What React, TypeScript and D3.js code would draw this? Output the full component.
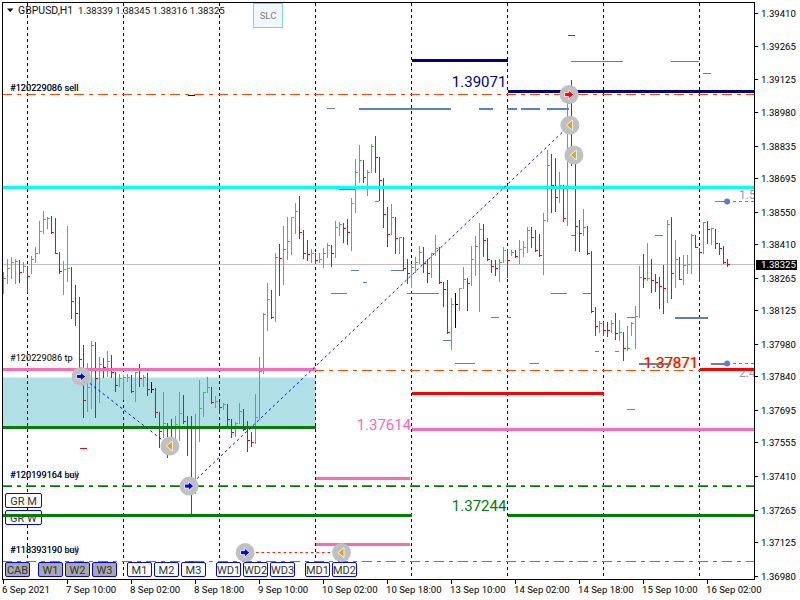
import React from "react";
import * as d3 from "d3";

const pts = (p: number) => 1 + p / 1e5;

// OHLC of GBPUSD H1, in points above 1.00000
const opens = [38262,38292,38310,38335,38340,38310,38318,38288,38348,38374,38469,38521,38521,38465,38374,38297,38305,38314,38167,38115,37917,37740,37796,37977,37834,37895,37882,37908,37860,37800,37834,37834,37834,37778,37860,37834,37834,37787,37787,37687,37601,37640,37610,37550,37636,37683,37649,37623,37368,37653,37705,37774,37796,37731,37731,37709,37722,37657,37601,37640,37692,37614,37567,37558,37666,37860,38093,38176,38098,38357,38357,38391,38426,38530,38555,38465,38374,38370,38370,38344,38348,38374,38409,38374,38486,38499,38482,38465,38590,38724,38775,38702,38724,38836,38788,38689,38542,38456,38530,38439,38443,38310,38288,38314,38335,38378,38331,38288,38374,38396,38249,38219,38046,38154,38154,38223,38262,38245,38348,38404,38478,38430,38340,38318,38310,38335,38387,38374,38378,38361,38391,38400,38473,38443,38387,38374,38516,38754,38667,38616,38667,38525,39021,38775,38490,38460,38486,38374,38124,38059,38072,38072,38042,38072,38029,38033,37960,38024,38072,38102,38270,38258,38344,38266,38249,38232,38223,38499,38288,38348,38262,38322,38318,38452,38383,38378,38508,38478,38478,38417,38396,38339];
const highs = [38292,38348,38357,38348,38344,38335,38318,38361,38400,38512,38555,38530,38534,38525,38378,38340,38490,38314,38236,38184,37977,37899,37994,37990,37925,37921,37951,37934,37860,37852,37847,37852,37847,37860,37895,37847,37856,37817,37791,37687,37774,37640,37657,37670,37774,37761,37670,37670,37679,37826,37774,37839,37796,37757,37731,37727,37722,37657,37644,37727,37700,37649,37601,37765,37925,38115,38245,38214,38374,38413,38490,38530,38530,38590,38620,38473,38430,38391,38374,38374,38396,38417,38409,38512,38508,38504,38521,38611,38780,38840,38775,38732,38845,38879,38788,38698,38573,38586,38530,38443,38443,38348,38322,38357,38404,38400,38348,38374,38452,38400,38249,38258,38180,38201,38223,38314,38266,38404,38447,38504,38499,38439,38344,38344,38348,38400,38391,38387,38387,38430,38426,38486,38486,38473,38456,38547,38819,38801,38784,38724,38667,39043,39121,38797,38516,38564,38490,38383,38141,38080,38076,38076,38085,38115,38085,38033,38059,38076,38145,38318,38370,38417,38348,38283,38270,38322,38516,38530,38430,38357,38366,38366,38456,38452,38396,38508,38512,38482,38478,38417,38404,38345];
const lows = [38201,38245,38266,38245,38249,38292,38206,38288,38335,38374,38460,38482,38460,38374,38288,38197,38253,38093,38063,37843,37666,37692,37705,37666,37731,37839,37843,37839,37778,37800,37744,37822,37774,37735,37800,37800,37761,37774,37666,37537,37580,37494,37524,37520,37567,37640,37502,37252,37338,37562,37670,37774,37727,37709,37683,37700,37631,37580,37584,37640,37610,37520,37541,37554,37657,37856,38042,38093,38080,38193,38240,38348,38370,38460,38439,38352,38344,38335,38331,38335,38314,38357,38318,38357,38452,38421,38413,38387,38551,38681,38681,38624,38724,38724,38603,38486,38404,38456,38374,38374,38301,38245,38227,38292,38331,38292,38249,38270,38365,38245,38145,38029,37960,38055,38128,38223,38128,38236,38279,38124,38361,38344,38292,38279,38253,38335,38270,38365,38357,38331,38361,38378,38400,38383,38361,38283,38512,38551,38555,38594,38512,38495,38754,38387,38383,38452,38370,38119,38020,38033,38020,38016,38033,38003,37999,37912,37955,38020,37964,38098,38227,38258,38206,38210,38136,38115,38163,38180,38227,38262,38240,38288,38288,38400,38253,38374,38417,38413,38396,38370,38331,38316];
const closes = [38266,38310,38335,38339,38292,38318,38275,38348,38374,38469,38521,38525,38465,38374,38297,38305,38310,38167,38115,37917,37740,37796,37977,37834,37895,37882,37908,37860,37804,37834,37838,37838,37778,37860,37834,37838,37787,37787,37687,37606,37640,37541,37550,37636,37683,37649,37623,37368,37372,37705,37774,37796,37731,37735,37709,37722,37657,37601,37640,37692,37614,37567,37558,37666,37865,38111,38176,38098,38357,38352,38391,38426,38530,38555,38465,38374,38370,38374,38344,38348,38374,38409,38374,38486,38499,38482,38465,38590,38724,38775,38702,38724,38836,38788,38689,38542,38456,38530,38439,38443,38310,38288,38314,38335,38378,38331,38288,38374,38396,38249,38219,38033,38154,38154,38223,38262,38245,38348,38404,38478,38430,38348,38318,38310,38335,38387,38344,38378,38361,38391,38400,38473,38443,38387,38365,38516,38754,38667,38616,38667,38525,39021,38819,38490,38460,38486,38374,38124,38059,38072,38042,38042,38072,38029,38033,37964,37964,38072,38102,38270,38266,38266,38258,38249,38232,38223,38499,38288,38348,38262,38322,38326,38452,38400,38378,38508,38478,38480,38417,38396,38335,38325];

const priceTicks = [1.3941,1.39265,1.39125,1.3898,1.38835,1.38695,1.3855,1.3841,1.38265,1.38125,1.3798,1.3784,1.37695,1.37555,1.3741,1.37265,1.37125,1.3698];
const timeLabels = ["6 Sep 2021","7 Sep 10:00","8 Sep 02:00","8 Sep 18:00","9 Sep 10:00","10 Sep 02:00","10 Sep 18:00","13 Sep 10:00","14 Sep 02:00","14 Sep 18:00","15 Sep 10:00","16 Sep 02:00"];
const periodSepBars = [6,30,54,78,102,126,150,174];
const lastPrice = 1.38325;
const symbol = "GBPUSD,H1";
const quote = "1.38339 1.38345 1.38316 1.38325";

const LEFT = -0.4, RIGHT = 187.6;
const cyanLine = [[LEFT, RIGHT, 1.38658]];
const orangeLines = [1.39059, 1.37869, 1.37368, 1.37043];
const buyLine = 1.37368;
const darkGreenLines = [[LEFT, 78, 1.37621],[LEFT, 102, 1.37242],[126, RIGHT, 1.37242]];
const pinkLines = [[LEFT, 78, 1.37871],[102, RIGHT, 1.37614],[78, 101.5, 1.37402],[78, 101.5, 1.37117]];
const navyLines = [[102, 126, 1.39205],[126, RIGHT, 1.39071]];
const redLines = [[102, 150, 1.37768],[174, RIGHT, 1.37871]];
const zone = [LEFT, 78, 1.37839, 1.37621];

const slateThin = [[83.9,87.9,1.3865],[92.9,93.9,1.38597],[86.9,88.9,1.38299],[96.9,99.9,1.38299],[89.9,90.9,1.38248],[81.9,85.9,1.382],[100.9,108.9,1.382],[109.9,111.9,1.37997],[121.9,123.9,1.38097],[125.9,126.9,1.38097],[141.9,154.9,1.39201],[166.9,173.9,1.39201],[174.9,176.9,1.3915],[162.9,164.9,1.3845],[141.9,142.9,1.3845],[136.9,140.9,1.382],[144.9,146.9,1.382],[155.9,157.9,1.38097],[147.9,148.9,1.3795],[152.9,153.9,1.3795],[155.9,157.9,1.377],[131.6,133.9,1.37898],[112.9,117.9,1.37899],[177.9,180.9,1.38598],[80.9,82.9,1.39]];
const slateThick = [[88.9,111.9,1.39],[118.9,122.4,1.39],[125.9,128.4,1.39],[129.4,134.1,1.39],[135.9,141.4,1.39],[167.9,176.1,1.38098],[158.9,166.9,1.37899],[176.9,180.9,1.37899]];
const slateEnds = [[180.9,1.38598,"1.5"],[180.9,1.37899,"2.4"]];
const tinyRed = [[19.1,20.9,1.37533],[141.1,142.9,1.39313],[46.1,47.9,1.37045]];
const tinyNavy = [[46.1,47.9,1.39053]];

const entryMarks = [[19.4,1.37841],[46.4,1.37368],[60.4,1.37081]];
const exitMarks = [[41.6,1.37541],[84.5,1.37081],[141.6,1.38926],[142.6,1.38797]];
const sellMark = [141.4,1.39058];
const tradeLines = [[[19.4,1.37841],[41.6,1.37541]],[[46.4,1.37368],[141.6,1.38926]]];
const closedLine = [[60.4,1.37081],[84.5,1.37081]];

const orderLabels = [["#120229086 sell",1.39059],["#120229086 tp",1.37895],["#120199164 buy",1.37392],["#118393190 buy",1.37068]];
const bigValues = ["1.39071","1.37614","1.37244","1.37871"];
const bigPrices = [1.39071,1.37614,1.37244,1.37871];
const bigColors = ["#000080","#ff69b4","#008000","#ff0000"];
const bigBars = [118.9,95.1,118.9,166.9];
const bigNudges = [-5,1,-4,-2];

const greyButtons = ["CAB","W1","W2","W3"];
const whiteButtons = ["M1","M2","M3","WD1","WD2","WD3","MD1","MD2"];
const grButtons = ["GR M","GR W"];

const x = d3.scaleLinear().domain([0, 1]).range([3.5, 7.5]);
const y = d3.scaleLinear().domain([1.3941, 1.3698]).range([13, 576]);
const py = (p: number) => Math.round(y(p) - 0.3) + 0.5;
const UI = "Roboto, 'Noto Sans', sans-serif";
const dd = "9.5 5.5 3.5 5.5";

const hline = (segs: number[][], color: string, w: number, key: string) =>
  segs.map((s, i) => (
    <line key={key + i} x1={x(s[0])} x2={x(s[1])} y1={py(s[2])} y2={py(s[2])} stroke={color} strokeWidth={w} shapeRendering="crispEdges" />
  ));

const trade = d3.line<number[]>().x(d => x(d[0])).y(d => y(d[1]));

const Mark = ({ m, kind }: { m: number[]; kind: string }) => {
  const cx = x(m[0]), cy = y(m[1]);
  const shape =
    kind === "exit"
      ? `M-3.5 0 L2.5 -5 V5 Z`
      : `M4.5 0 L-0.5 -4.5 V-2 H-4.5 V2 H-0.5 V4.5 Z`;
  return (
    <g transform={`translate(${cx},${cy})`}>
      <circle r={9.5} fill="#c0c0c0" />
      <path d={shape} fill={kind === "exit" ? "#daa520" : kind === "sell" ? "#ff0000" : "#0000ff"} stroke="#ffffff" strokeWidth={0.8} />
    </g>
  );
};

const Btn = ({ label, bx, by, bw, bh, grey }: { label: string; bx: number; by: number; bw: number; bh: number; grey?: boolean }) => (
  <g>
    <rect x={bx + 0.5} y={by + 0.5} width={bw} height={bh} rx={1.5} fill={grey ? "#a9a9a9" : "#ffffff"} stroke="#0000ff" strokeWidth={1} />
    <text x={bx + bw / 2 + 0.5} y={by + bh / 2 + 4.5} textAnchor="middle" fontFamily={UI} fontSize={11} fill="#333333">{label}</text>
  </g>
);

export default function App() {
  const bottomX = [5, 38, 65, 92];
  const whiteX = [127, 154, 181, 216, 243, 270, 305, 332];
  return (
    <svg width={800} height={600} viewBox="0 0 800 600" style={{ position: "fixed", left: 0, top: 0, display: "block", background: "#fff" }}>
      <defs>
        <clipPath id="plot"><rect x={2} y={2} width={752} height={577} /></clipPath>
      </defs>
      <g clipPath="url(#plot)">
        <rect x={x(zone[0])} width={x(zone[1]) - x(zone[0])} y={py(zone[2])} height={py(zone[3]) - py(zone[2])} fill="#b0e0e6" />
        <line x1={2} x2={754} y1={py(lastPrice)} y2={py(lastPrice)} stroke="#c0c0c0" shapeRendering="crispEdges" />
        {periodSepBars.map(b => (
          <line key={b} x1={x(b)} x2={x(b)} y1={3} y2={579} stroke="#000" strokeDasharray="3 3" shapeRendering="crispEdges" />
        ))}
        {d3.range(opens.length).map(i => {
          const o = py(pts(opens[i])), c = py(pts(closes[i])), hi = py(pts(highs[i])), lo = py(pts(lows[i]));
          const col = closes[i] > opens[i] ? "#32cd32" : closes[i] < opens[i] ? "#ff0000" : "#000000";
          const bc = x(i);
          return (
            <path key={i} d={`M${bc} ${hi - 0.5} V${lo + 0.5} M${bc - 1} ${o} H${bc} M${bc} ${c} H${bc + 2}`} stroke={col} fill="none" shapeRendering="crispEdges" />
          );
        })}
        {tinyRed.map((s, i) => <line key={i} x1={x(s[0])} x2={x(s[1])} y1={py(s[2])} y2={py(s[2])} stroke="#ff0000" shapeRendering="crispEdges" />)}
        {tinyNavy.map((s, i) => <line key={i} x1={x(s[0])} x2={x(s[1])} y1={py(s[2])} y2={py(s[2])} stroke="#0000cd" shapeRendering="crispEdges" />)}
        {hline(slateThin, "#5b7fc7", 1, "st")}
        {hline(slateThick, "#5b7fc7", 2, "sk")}
        {slateEnds.map((e, i) => (
          <g key={i}>
            <line x1={x(e[0] as number)} x2={754} y1={py(e[1] as number)} y2={py(e[1] as number)} stroke="#5b7fc7" strokeDasharray="3 3" shapeRendering="crispEdges" />
            <circle cx={x(e[0] as number)} cy={py(e[1] as number)} r={3} fill="#5b7fc7" />
            <text x={739} y={py(e[1] as number) + (i === 0 ? -3 : 13)} fontFamily={UI} fontSize={12} fill="#8a96c8">{e[2]}</text>
          </g>
        ))}
        <line x1={2} x2={754} y1={py(buyLine)} y2={py(buyLine)} stroke="#008000" strokeDasharray={dd} shapeRendering="crispEdges" />
        {orangeLines.map((p, i) => (
          <line key={i} x1={2} x2={754} y1={py(p) - (p === buyLine ? 1 : 0)} y2={py(p) - (p === buyLine ? 1 : 0)} stroke="#ff4500" strokeDasharray={dd} shapeRendering="crispEdges" />
        ))}
        {hline(pinkLines, "#ff69b4", 3, "pk")}
        {hline(darkGreenLines, "#008000", 3, "dg")}
        {hline(cyanLine, "#00ffff", 3, "cy")}
        {hline(navyLines, "#000080", 3, "nv")}
        {hline(redLines, "#ff0000", 3, "rd")}
        {tradeLines.map((t, i) => <path key={i} d={trade(t) ?? ""} fill="none" stroke="#0000ff" strokeDasharray="2.5 3" />)}
        <path d={trade(closedLine) ?? ""} fill="none" stroke="#ff0000" strokeDasharray="2.5 3" />
        {entryMarks.map((m, i) => <Mark key={"e" + i} m={m} kind="entry" />)}
        {exitMarks.map((m, i) => <Mark key={"x" + i} m={m} kind="exit" />)}
        <Mark m={sellMark} kind="sell" />
        {orderLabels.map((l, i) => (
          <g key={i}>
            {i !== 1 && <text x={10} y={y(l[1] as number) - 3} fontFamily={UI} fontSize={9.2} fill="#1e6fd0">{(l[0] as string).split(" ")[0] + " sell"}</text>}
            <text x={10} y={y(l[1] as number) - 3} fontFamily={UI} fontSize={9.2} fill="#000">{l[0] as string}</text>
          </g>
        ))}
        {bigValues.map((v, i) => (
          <g key={v}>
            {i === 3 && <text x={x(bigBars[i]) - 0.7} y={y(bigPrices[i]) + bigNudges[i]} textAnchor="middle" fontFamily={UI} fontSize={15} fill="#ffa500">{v}</text>}
            <text x={x(bigBars[i])} y={y(bigPrices[i]) + bigNudges[i]} textAnchor="middle" fontFamily={UI} fontSize={15} fill={bigColors[i]}>{v}</text>
          </g>
        ))}
      </g>

      <path d="M7 8.5 H13.5 L10.2 12 Z" fill="#000" />
      <text x={18} y={13.5} fontFamily={UI} fontSize={10.5} fill="#111">{symbol}</text>
      <text x={78} y={13.5} fontFamily={UI} fontSize={9.6} fill="#111">{quote}</text>
      <rect x={253.5} y={3.5} width={29} height={24} fill="#f0f8ff" stroke="#87ceeb" />
      <text x={268} y={19} textAnchor="middle" fontFamily={UI} fontSize={9.5} fill="#808080">SLC</text>

      {grButtons.map((g, i) => <Btn key={g} label={g} bx={5} by={[493, 510][i]} bw={36} bh={14} />)}
      <line x1={x(LEFT)} x2={x(102)} y1={py(1.37242)} y2={py(1.37242)} stroke="#008000" strokeWidth={3} shapeRendering="crispEdges" />
      {greyButtons.map((g, i) => <Btn key={g} label={g} bx={bottomX[i]} by={562} bw={24} bh={14} grey />)}
      {whiteButtons.map((g, i) => <Btn key={g} label={g} bx={whiteX[i]} by={562} bw={24} bh={14} />)}

      <path d="M2.5 2.5 H754.5 V579.5 H2.5 Z" fill="none" stroke="#000" shapeRendering="crispEdges" />
      {priceTicks.map(t => (
        <g key={t}>
          <line x1={754} x2={758} y1={py(t)} y2={py(t)} stroke="#000" shapeRendering="crispEdges" />
          <text x={761} y={py(t) + 3.5} fontFamily={UI} fontSize={9.6} fill="#000">{t.toFixed(5)}</text>
        </g>
      ))}
      <rect x={756} y={260} width={41} height={10} fill="#000" />
      <text x={761} y={py(lastPrice) + 3.5} fontFamily={UI} fontSize={9.6} fill="#fff">{lastPrice.toFixed(5)}</text>
      {timeLabels.map((t, i) => (
        <g key={t}>
          <line x1={x(i * 16)} x2={x(i * 16)} y1={579} y2={584} stroke="#000" shapeRendering="crispEdges" />
          <text x={x(i * 16) - 1.5} y={592.5} fontFamily={UI} fontSize={9.6} fill="#000">{t}</text>
        </g>
      ))}
    </svg>
  );
}
